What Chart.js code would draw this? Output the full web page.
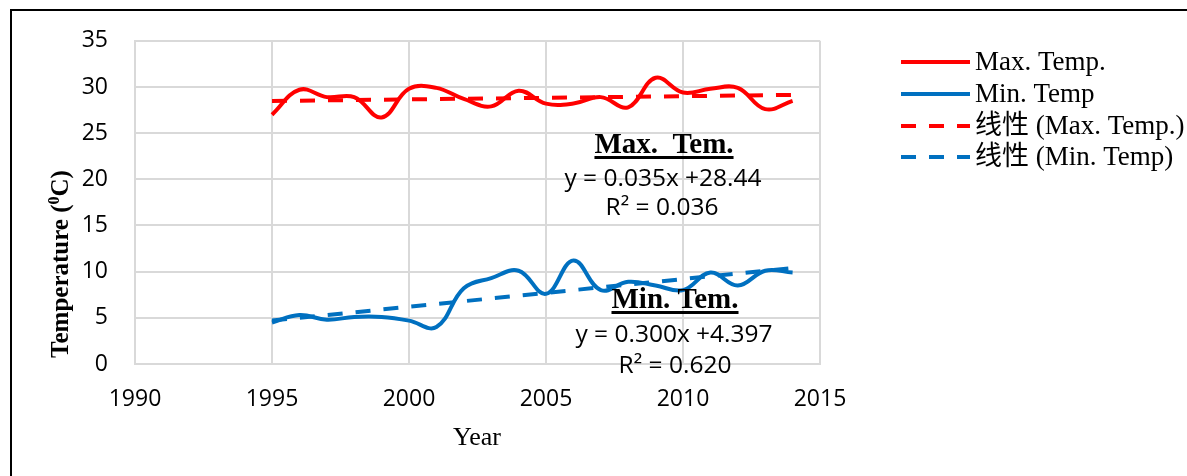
<!DOCTYPE html>
<html lang="en">
<head>
    <meta charset="UTF-8">
    <title>Max / Min Temperature</title>
    <style>
        body {
            margin: 0;
            padding: 0;
            background: #fff;
            overflow: hidden;
        }
        #wrap {
            position: relative;
            width: 1187px;
            height: 476px;
        }
    </style>
</head>
<body>
    <div id="wrap">
        <canvas id="myChart" width="1187" height="476"></canvas>
    </div>

    <script src="https://cdn.jsdelivr.net/npm/chart.js"></script>
    <script>
// data
const years = [1995, 1996, 1997, 1998, 1999, 2000, 2001, 2002, 2003, 2004,
               2005, 2006, 2007, 2008, 2009, 2010, 2011, 2012, 2013, 2014];
const maxTemp = [27.0, 29.7, 28.9, 28.9, 26.7, 29.8, 29.9, 28.7, 27.9, 29.6,
                 28.2, 28.2, 28.9, 27.8, 31.0, 29.4, 29.8, 29.9, 27.6, 28.5];
const minTemp = [4.5, 5.3, 4.8, 5.1, 5.1, 4.7, 4.0, 8.2, 9.3, 10.1,
                 7.6, 11.2, 8.0, 8.9, 8.5, 8.0, 9.9, 8.5, 10.1, 9.9];
// linear trend end points (1995 and 2014)
const trendYears = [1995, 2014];
const maxTrend = [28.48, 29.14];
const minTrend = [4.70, 10.40];

const seriesNames = ['Max. Temp.', 'Min. Temp', '线性 (Max. Temp.)', '线性 (Min. Temp)'];
const xTicks = [1990, 1995, 2000, 2005, 2010, 2015];
const yTicks = [0, 5, 10, 15, 20, 25, 30, 35];

const RED = '#FF0000';
const BLUE = '#0070C0';
const GRID = '#D9D9D9';
const SANS = "'Open Sans', 'Liberation Sans', sans-serif";
const SERIF = "'Liberation Serif', 'Noto Sans CJK SC', serif";

function pts(xs, ys) {
    return xs.map((x, i) => ({ x: x, y: ys[i] }));
}

// frame, titles, equations, legend
const extras = {
    id: 'extras',
    beforeDraw(chart) {
        const c = chart.ctx;
        c.save();
        c.fillStyle = '#fff';
        c.fillRect(0, 0, chart.width, chart.height);
        c.restore();
    },
    afterDraw(chart) {
        const c = chart.ctx;
        c.save();

        // outer frame
        c.strokeStyle = '#000';
        c.lineWidth = 2;
        c.strokeRect(11, 10, 1300, 600);

        // y axis title
        c.save();
        c.translate(62, 264);
        c.rotate(-Math.PI / 2);
        c.fillStyle = '#000';
        c.textBaseline = 'middle';
        const big = 'bold 25px ' + SERIF;
        const small = 'bold 16px ' + SERIF;
        const p1 = 'Temperature (', p2 = '0', p3 = 'C)';
        c.font = big;
        const w1 = c.measureText(p1).width, w3 = c.measureText(p3).width;
        c.font = small;
        const w2 = c.measureText(p2).width;
        let x0 = -(w1 + w2 + w3) / 2;
        c.font = big;
        c.textAlign = 'left';
        c.fillText(p1, x0, 0);
        c.font = small;
        c.fillText(p2, x0 + w1, -7);
        c.font = big;
        c.fillText(p3, x0 + w1 + w2, 0);
        c.restore();

        // x axis title
        c.fillStyle = '#000';
        c.font = '26px ' + SERIF;
        c.textAlign = 'center';
        c.textBaseline = 'middle';
        c.fillText('Year', 477, 438);

        // equations
        function heading(txt, cx, base) {
            c.font = 'bold 29px ' + SERIF;
            c.textAlign = 'center';
            c.textBaseline = 'alphabetic';
            c.fillText(txt, cx, base);
            const w = c.measureText(txt).width;
            c.fillRect(cx - w / 2, base + 3, w, 3);
        }
        function eq(txt, cx, base) {
            c.font = '24.5px ' + SANS;
            c.textAlign = 'center';
            c.textBaseline = 'alphabetic';
            c.fillText(txt, cx, base);
        }
        heading('Max.  Tem.', 664, 153);
        eq('y = 0.035x +28.44', 663, 186);
        eq('R² = 0.036', 662, 215);
        heading('Min. Tem.', 675, 308);
        eq('y = 0.300x +4.397', 674, 342);
        eq('R² = 0.620', 675, 373);

        // legend
        const rows = [62, 94, 126, 157];
        chart.data.datasets.forEach((ds, i) => {
            const y = rows[i];
            c.beginPath();
            c.strokeStyle = ds.borderColor;
            c.lineWidth = 4;
            c.setLineDash(ds.borderDash || []);
            c.moveTo(901, y);
            c.lineTo(970, y);
            c.stroke();
            c.setLineDash([]);
            c.fillStyle = '#000';
            c.font = '27px ' + SERIF;
            c.textAlign = 'left';
            c.textBaseline = 'middle';
            c.fillText(ds.label, 975, y + 1);
        });

        c.restore();
    }
};

const ctx = document.getElementById('myChart').getContext('2d');
const myChart = new Chart(ctx, {
    type: 'line',
    data: {
        datasets: [
            {
                label: seriesNames[0],
                data: pts(years, maxTemp),
                borderColor: RED,
                borderWidth: 4,
                tension: 0.4,
                pointRadius: 0,
                order: 3
            },
            {
                label: seriesNames[1],
                data: pts(years, minTemp),
                borderColor: BLUE,
                borderWidth: 4,
                tension: 0.4,
                pointRadius: 0,
                order: 4
            },
            {
                label: seriesNames[2],
                data: pts(trendYears, maxTrend),
                borderColor: RED,
                borderWidth: 4,
                borderDash: [15, 13],
                pointRadius: 0,
                order: 1
            },
            {
                label: seriesNames[3],
                data: pts(trendYears, minTrend),
                borderColor: BLUE,
                borderWidth: 4,
                borderDash: [15, 13],
                pointRadius: 0,
                order: 2
            }
        ]
    },
    options: {
        responsive: false,
        animation: false,
        layout: {
            padding: { left: 0, top: 40, right: 367, bottom: 0 }
        },
        plugins: {
            legend: { display: false },
            tooltip: { enabled: false }
        },
        scales: {
            x: {
                type: 'linear',
                min: xTicks[0],
                max: xTicks[xTicks.length - 1],
                afterBuildTicks: s => { s.ticks = xTicks.map(v => ({ value: v })); },
                afterFit: s => { s.height = 112; },
                grid: { color: GRID, lineWidth: 2, drawTicks: false },
                border: { color: GRID, width: 2 },
                ticks: {
                    padding: 22,
                    color: '#000',
                    font: { family: SANS, size: 23 },
                    callback: v => String(v)
                }
            },
            y: {
                min: yTicks[0],
                max: yTicks[yTicks.length - 1],
                afterBuildTicks: s => { s.ticks = yTicks.map(v => ({ value: v })); },
                afterFit: s => { s.width = 135; },
                grid: { color: GRID, lineWidth: 2, drawTicks: false },
                border: { color: GRID, width: 2 },
                ticks: {
                    padding: 27,
                    color: '#000',
                    font: { family: SANS, size: 23 },
                    callback: v => String(v)
                }
            }
        }
    },
    plugins: [extras]
});
    </script>
</body>
</html>
